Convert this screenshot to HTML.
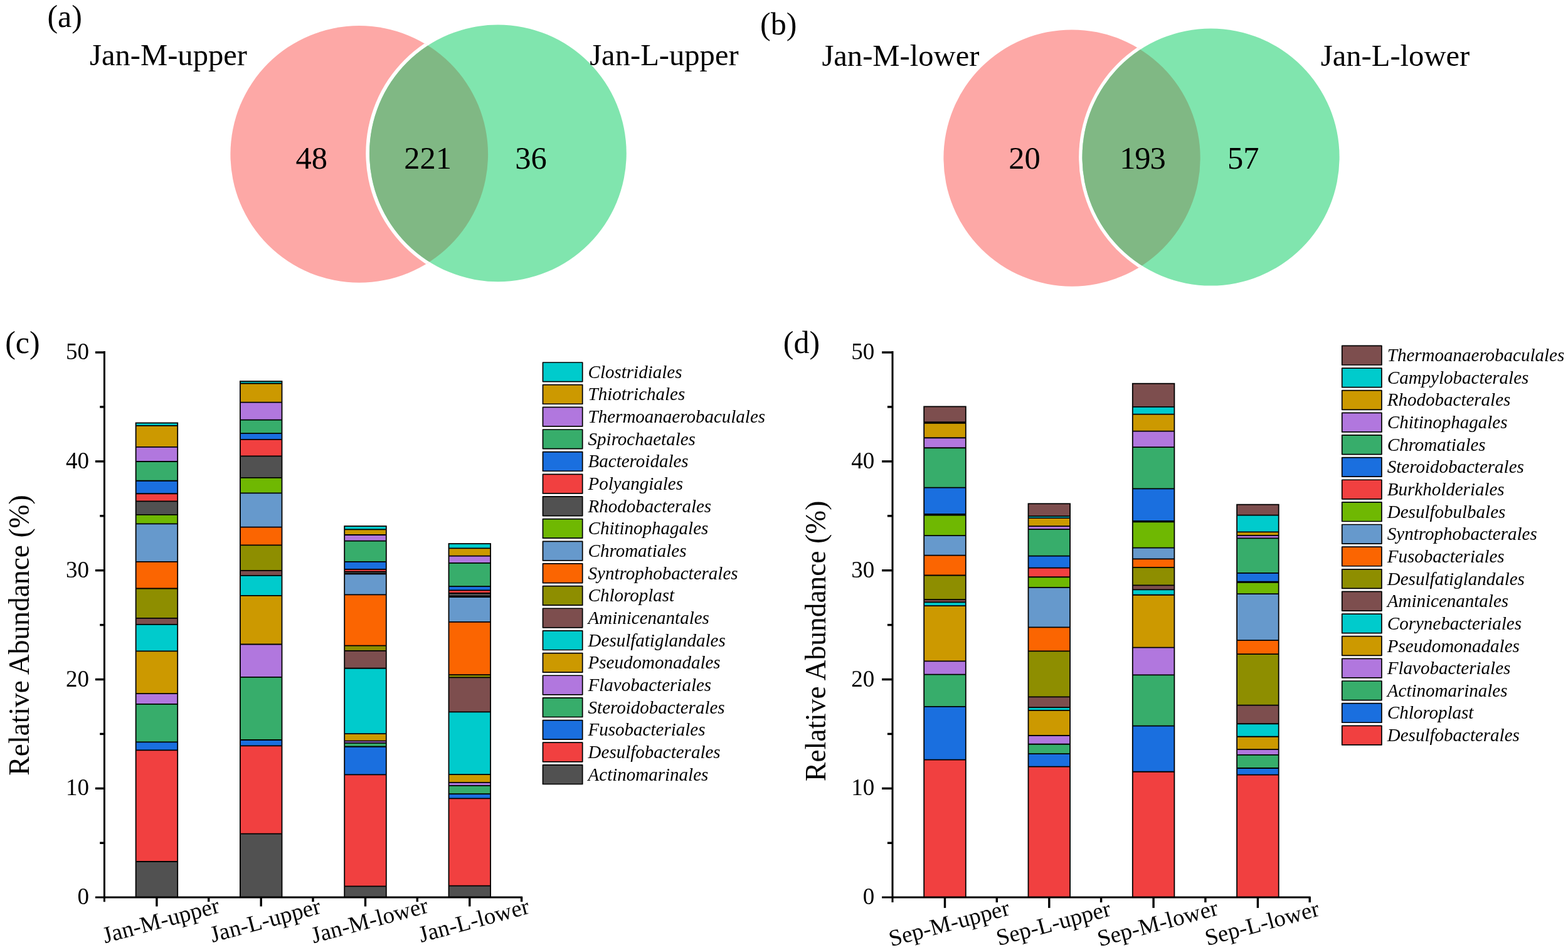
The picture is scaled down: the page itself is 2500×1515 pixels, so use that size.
<!DOCTYPE html>
<html><head><meta charset="utf-8"><title>Figure</title>
<style>
html,body{margin:0;padding:0;background:#fff;width:2500px;height:1515px;overflow:hidden}
svg{display:block}

text{font-family:"Liberation Serif","Times New Roman",serif;fill:#000}
.vn{font-size:50.5px}
.vl{font-size:48.6px}
.pl{font-size:50px}
.tk{font-size:37px}
.yt{font-size:45.5px}
.lg{font-size:29px;font-style:italic}
</style></head><body>
<svg width="2500" height="1515" viewBox="0 0 2500 1515">
<rect class="bg" width="2500" height="1515" fill="#fff"/>
<g class="venn">
<defs><clipPath id="clipRa"><ellipse cx="572.75" cy="245.95" rx="205.35" ry="204.85"/></clipPath></defs>
<ellipse cx="572.75" cy="245.95" rx="205.35" ry="204.85" fill="#FDA8A6"/>
<circle cx="793.9" cy="244.35" r="210.6" fill="#fff" clip-path="url(#clipRa)"/>
<circle cx="793.9" cy="244.35" r="204.85" fill="#80E5AE"/>
<circle cx="793.9" cy="244.35" r="204.85" fill="#80B884" clip-path="url(#clipRa)"/>
</g><g class="vnum">
<text x="496.8" y="268.7" class="vn" text-anchor="middle">48</text>
<text x="682.0" y="268.7" class="vn" text-anchor="middle">221</text>
<text x="846.5" y="268.7" class="vn" text-anchor="middle">36</text>
</g><g class="vlab">
<text x="143.0" y="104.0" class="vl">Jan-M-upper</text>
<text x="940.2" y="104.4" class="vl">Jan-L-upper</text>
</g>
<g class="venn">
<defs><clipPath id="clipRb"><ellipse cx="1709.05" cy="252.05" rx="204.65" ry="204.65"/></clipPath></defs>
<ellipse cx="1709.05" cy="252.05" rx="204.65" ry="204.65" fill="#FDA8A6"/>
<circle cx="1930.55" cy="250.55" r="210.4" fill="#fff" clip-path="url(#clipRb)"/>
<circle cx="1930.55" cy="250.55" r="205.05" fill="#80E5AE"/>
<circle cx="1930.55" cy="250.55" r="205.05" fill="#80B884" clip-path="url(#clipRb)"/>
</g><g class="vnum">
<text x="1633.6" y="269.4" class="vn" text-anchor="middle">20</text>
<text x="1821.4" y="269.4" class="vn" text-anchor="middle" letter-spacing="-1.2">193</text>
<text x="1982.3" y="269.4" class="vn" text-anchor="middle">57</text>
</g><g class="vlab">
<text x="1310.4" y="104.8" class="vl">Jan-M-lower</text>
<text x="2105.8" y="105.2" class="vl">Jan-L-lower</text>
</g>
<g class="pls">
<text x="75.4" y="42.7" class="pl">(a)</text>
<text x="1212.0" y="54.6" class="pl">(b)</text>
<text x="8.2" y="563.0" class="pl">(c)</text>
<text x="1248.8" y="563.0" class="pl">(d)</text>
</g>
<g class="bars">
<rect x="216.60" y="1373.98" width="66.6" height="57.02" fill="#515151"/>
<rect x="216.60" y="1196.32" width="66.6" height="177.66" fill="#F14040"/>
<rect x="216.60" y="1183.45" width="66.6" height="12.86" fill="#1A6FDF"/>
<rect x="216.60" y="1122.78" width="66.6" height="60.67" fill="#37AD6B"/>
<rect x="216.60" y="1106.09" width="66.6" height="16.69" fill="#B177DE"/>
<rect x="216.60" y="1038.30" width="66.6" height="67.80" fill="#CC9900"/>
<rect x="216.60" y="995.88" width="66.6" height="42.42" fill="#00CBCC"/>
<rect x="216.60" y="985.97" width="66.6" height="9.91" fill="#7D4E4E"/>
<rect x="216.60" y="938.51" width="66.6" height="47.46" fill="#8E8E00"/>
<rect x="216.60" y="895.92" width="66.6" height="42.59" fill="#FB6501"/>
<rect x="216.60" y="835.42" width="66.6" height="60.50" fill="#6699CC"/>
<rect x="216.60" y="820.82" width="66.6" height="14.60" fill="#6FB802"/>
<rect x="216.60" y="799.44" width="66.6" height="21.38" fill="#515151"/>
<rect x="216.60" y="787.27" width="66.6" height="12.17" fill="#F14040"/>
<rect x="216.60" y="766.76" width="66.6" height="20.51" fill="#1A6FDF"/>
<rect x="216.60" y="735.99" width="66.6" height="30.77" fill="#37AD6B"/>
<rect x="216.60" y="712.87" width="66.6" height="23.12" fill="#B177DE"/>
<rect x="216.60" y="678.79" width="66.6" height="34.07" fill="#CC9900"/>
<rect x="216.60" y="674.45" width="66.6" height="4.35" fill="#00CBCC"/>
<path d="M216.60 1373.98H283.20M216.60 1196.32H283.20M216.60 1183.45H283.20M216.60 1122.78H283.20M216.60 1106.09H283.20M216.60 1038.30H283.20M216.60 995.88H283.20M216.60 985.97H283.20M216.60 938.51H283.20M216.60 895.92H283.20M216.60 835.42H283.20M216.60 820.82H283.20M216.60 799.44H283.20M216.60 787.27H283.20M216.60 766.76H283.20M216.60 735.99H283.20M216.60 712.87H283.20M216.60 678.79H283.20" stroke="#000" stroke-width="1.8" fill="none"/>
<rect x="216.60" y="674.45" width="66.6" height="756.55" fill="none" stroke="#000" stroke-width="1.8"/>
<rect x="382.90" y="1329.65" width="66.6" height="101.35" fill="#515151"/>
<rect x="382.90" y="1189.36" width="66.6" height="140.29" fill="#F14040"/>
<rect x="382.90" y="1179.98" width="66.6" height="9.39" fill="#1A6FDF"/>
<rect x="382.90" y="1079.84" width="66.6" height="100.13" fill="#37AD6B"/>
<rect x="382.90" y="1027.52" width="66.6" height="52.33" fill="#B177DE"/>
<rect x="382.90" y="949.81" width="66.6" height="77.71" fill="#CC9900"/>
<rect x="382.90" y="917.82" width="66.6" height="31.99" fill="#00CBCC"/>
<rect x="382.90" y="909.83" width="66.6" height="8.00" fill="#7D4E4E"/>
<rect x="382.90" y="869.32" width="66.6" height="40.50" fill="#8E8E00"/>
<rect x="382.90" y="840.64" width="66.6" height="28.68" fill="#FB6501"/>
<rect x="382.90" y="786.40" width="66.6" height="54.24" fill="#6699CC"/>
<rect x="382.90" y="761.89" width="66.6" height="24.51" fill="#6FB802"/>
<rect x="382.90" y="727.30" width="66.6" height="34.59" fill="#515151"/>
<rect x="382.90" y="700.87" width="66.6" height="26.42" fill="#F14040"/>
<rect x="382.90" y="691.14" width="66.6" height="9.74" fill="#1A6FDF"/>
<rect x="382.90" y="669.58" width="66.6" height="21.56" fill="#37AD6B"/>
<rect x="382.90" y="641.59" width="66.6" height="27.99" fill="#B177DE"/>
<rect x="382.90" y="611.52" width="66.6" height="30.07" fill="#CC9900"/>
<rect x="382.90" y="608.04" width="66.6" height="3.48" fill="#00CBCC"/>
<path d="M382.90 1329.65H449.50M382.90 1189.36H449.50M382.90 1179.98H449.50M382.90 1079.84H449.50M382.90 1027.52H449.50M382.90 949.81H449.50M382.90 917.82H449.50M382.90 909.83H449.50M382.90 869.32H449.50M382.90 840.64H449.50M382.90 786.40H449.50M382.90 761.89H449.50M382.90 727.30H449.50M382.90 700.87H449.50M382.90 691.14H449.50M382.90 669.58H449.50M382.90 641.59H449.50M382.90 611.52H449.50" stroke="#000" stroke-width="1.8" fill="none"/>
<rect x="382.90" y="608.04" width="66.6" height="822.96" fill="none" stroke="#000" stroke-width="1.8"/>
<rect x="549.20" y="1413.44" width="66.6" height="17.56" fill="#515151"/>
<rect x="549.20" y="1235.43" width="66.6" height="178.01" fill="#F14040"/>
<rect x="549.20" y="1190.75" width="66.6" height="44.68" fill="#1A6FDF"/>
<rect x="549.20" y="1184.84" width="66.6" height="5.91" fill="#37AD6B"/>
<rect x="549.20" y="1181.71" width="66.6" height="3.13" fill="#B177DE"/>
<rect x="549.20" y="1170.07" width="66.6" height="11.65" fill="#CC9900"/>
<rect x="549.20" y="1065.76" width="66.6" height="104.30" fill="#00CBCC"/>
<rect x="549.20" y="1037.95" width="66.6" height="27.81" fill="#7D4E4E"/>
<rect x="549.20" y="1029.60" width="66.6" height="8.34" fill="#8E8E00"/>
<rect x="549.20" y="948.42" width="66.6" height="81.18" fill="#FB6501"/>
<rect x="549.20" y="915.39" width="66.6" height="33.03" fill="#6699CC"/>
<rect x="549.20" y="914.87" width="66.6" height="0.52" fill="#6FB802"/>
<rect x="549.20" y="911.74" width="66.6" height="3.13" fill="#515151"/>
<rect x="549.20" y="907.92" width="66.6" height="3.82" fill="#F14040"/>
<rect x="549.20" y="895.92" width="66.6" height="11.99" fill="#1A6FDF"/>
<rect x="549.20" y="862.72" width="66.6" height="33.20" fill="#37AD6B"/>
<rect x="549.20" y="852.98" width="66.6" height="9.74" fill="#B177DE"/>
<rect x="549.20" y="844.29" width="66.6" height="8.69" fill="#CC9900"/>
<rect x="549.20" y="839.07" width="66.6" height="5.22" fill="#00CBCC"/>
<path d="M549.20 1413.44H615.80M549.20 1235.43H615.80M549.20 1190.75H615.80M549.20 1184.84H615.80M549.20 1181.71H615.80M549.20 1170.07H615.80M549.20 1065.76H615.80M549.20 1037.95H615.80M549.20 1029.60H615.80M549.20 948.42H615.80M549.20 915.39H615.80M549.20 914.87H615.80M549.20 911.74H615.80M549.20 907.92H615.80M549.20 895.92H615.80M549.20 862.72H615.80M549.20 852.98H615.80M549.20 844.29H615.80" stroke="#000" stroke-width="1.8" fill="none"/>
<rect x="549.20" y="839.07" width="66.6" height="591.93" fill="none" stroke="#000" stroke-width="1.8"/>
<rect x="715.50" y="1412.57" width="66.6" height="18.43" fill="#515151"/>
<rect x="715.50" y="1273.33" width="66.6" height="139.25" fill="#F14040"/>
<rect x="715.50" y="1266.20" width="66.6" height="7.13" fill="#1A6FDF"/>
<rect x="715.50" y="1252.81" width="66.6" height="13.39" fill="#37AD6B"/>
<rect x="715.50" y="1247.95" width="66.6" height="4.87" fill="#B177DE"/>
<rect x="715.50" y="1235.08" width="66.6" height="12.86" fill="#CC9900"/>
<rect x="715.50" y="1135.30" width="66.6" height="99.78" fill="#00CBCC"/>
<rect x="715.50" y="1080.36" width="66.6" height="54.93" fill="#7D4E4E"/>
<rect x="715.50" y="1076.19" width="66.6" height="4.17" fill="#8E8E00"/>
<rect x="715.50" y="991.88" width="66.6" height="84.31" fill="#FB6501"/>
<rect x="715.50" y="952.07" width="66.6" height="39.81" fill="#6699CC"/>
<rect x="715.50" y="950.68" width="66.6" height="1.39" fill="#6FB802"/>
<rect x="715.50" y="945.99" width="66.6" height="4.69" fill="#515151"/>
<rect x="715.50" y="941.29" width="66.6" height="4.69" fill="#F14040"/>
<rect x="715.50" y="935.21" width="66.6" height="6.08" fill="#1A6FDF"/>
<rect x="715.50" y="897.83" width="66.6" height="37.38" fill="#37AD6B"/>
<rect x="715.50" y="886.71" width="66.6" height="11.13" fill="#B177DE"/>
<rect x="715.50" y="874.36" width="66.6" height="12.34" fill="#CC9900"/>
<rect x="715.50" y="867.06" width="66.6" height="7.30" fill="#00CBCC"/>
<path d="M715.50 1412.57H782.10M715.50 1273.33H782.10M715.50 1266.20H782.10M715.50 1252.81H782.10M715.50 1247.95H782.10M715.50 1235.08H782.10M715.50 1135.30H782.10M715.50 1080.36H782.10M715.50 1076.19H782.10M715.50 991.88H782.10M715.50 952.07H782.10M715.50 950.68H782.10M715.50 945.99H782.10M715.50 941.29H782.10M715.50 935.21H782.10M715.50 897.83H782.10M715.50 886.71H782.10M715.50 874.36H782.10" stroke="#000" stroke-width="1.8" fill="none"/>
<rect x="715.50" y="867.06" width="66.6" height="563.94" fill="none" stroke="#000" stroke-width="1.8"/>
</g>
<g class="axes" stroke="#000" fill="none">
<line x1="166.4" y1="560.0999999999999" x2="166.4" y2="1438.2" stroke-width="3"/>
<line x1="151.9" y1="1431.0" x2="833.1" y2="1431.0" stroke-width="3"/>
<g stroke-width="3.4">
<line x1="151.9" y1="1257.36" x2="166.4" y2="1257.36"/>
<line x1="151.9" y1="1083.52" x2="166.4" y2="1083.52"/>
<line x1="151.9" y1="909.68" x2="166.4" y2="909.68"/>
<line x1="151.9" y1="735.84" x2="166.4" y2="735.84"/>
<line x1="151.9" y1="562.00" x2="166.4" y2="562.00"/>
<line x1="159.20000000000002" y1="1344.28" x2="166.4" y2="1344.28"/>
<line x1="159.20000000000002" y1="1170.44" x2="166.4" y2="1170.44"/>
<line x1="159.20000000000002" y1="996.60" x2="166.4" y2="996.60"/>
<line x1="159.20000000000002" y1="822.76" x2="166.4" y2="822.76"/>
<line x1="159.20000000000002" y1="648.92" x2="166.4" y2="648.92"/>
<line x1="249.90" y1="1431.0" x2="249.90" y2="1445.5"/>
<line x1="416.20" y1="1431.0" x2="416.20" y2="1445.5"/>
<line x1="582.50" y1="1431.0" x2="582.50" y2="1445.5"/>
<line x1="748.80" y1="1431.0" x2="748.80" y2="1445.5"/>
<line x1="332.70" y1="1431.0" x2="332.70" y2="1438.2"/>
<line x1="499.00" y1="1431.0" x2="499.00" y2="1438.2"/>
<line x1="665.30" y1="1431.0" x2="665.30" y2="1438.2"/>
<line x1="831.60" y1="1431.0" x2="831.60" y2="1438.2"/>
</g></g>
<g class="tkg">
<text x="141.9" y="1442.30" class="tk" text-anchor="end">0</text>
<text x="141.9" y="1268.46" class="tk" text-anchor="end">10</text>
<text x="141.9" y="1094.62" class="tk" text-anchor="end">20</text>
<text x="141.9" y="920.78" class="tk" text-anchor="end">30</text>
<text x="141.9" y="746.94" class="tk" text-anchor="end">40</text>
<text x="141.9" y="573.10" class="tk" text-anchor="end">50</text>
</g>
<g class="xl">
<text class="tk" text-anchor="middle" transform="translate(259.70,1479.5) rotate(-15)">Jan-M-upper</text>
<text class="tk" text-anchor="middle" transform="translate(426.00,1479.5) rotate(-15)">Jan-L-upper</text>
<text class="tk" text-anchor="middle" transform="translate(592.30,1479.5) rotate(-15)">Jan-M-lower</text>
<text class="tk" text-anchor="middle" transform="translate(758.60,1479.5) rotate(-15)">Jan-L-lower</text>
</g>
<g class="ytg"><text class="yt" text-anchor="middle" transform="translate(46.0,1013.0) rotate(-90)">Relative Abundance (%)</text></g>
<g class="leg">
<rect x="865.50" y="578.00" width="63.2" height="30.6" fill="#00CBCC" stroke="#000" stroke-width="1.7" stroke-linejoin="round"/>
<text x="937.60" y="602.80" class="lg">Clostridiales</text>
<rect x="865.50" y="613.66" width="63.2" height="30.6" fill="#CC9900" stroke="#000" stroke-width="1.7" stroke-linejoin="round"/>
<text x="937.60" y="638.46" class="lg">Thiotrichales</text>
<rect x="865.50" y="649.32" width="63.2" height="30.6" fill="#B177DE" stroke="#000" stroke-width="1.7" stroke-linejoin="round"/>
<text x="937.60" y="674.12" class="lg">Thermoanaerobaculales</text>
<rect x="865.50" y="684.98" width="63.2" height="30.6" fill="#37AD6B" stroke="#000" stroke-width="1.7" stroke-linejoin="round"/>
<text x="937.60" y="709.78" class="lg">Spirochaetales</text>
<rect x="865.50" y="720.64" width="63.2" height="30.6" fill="#1A6FDF" stroke="#000" stroke-width="1.7" stroke-linejoin="round"/>
<text x="937.60" y="745.44" class="lg">Bacteroidales</text>
<rect x="865.50" y="756.30" width="63.2" height="30.6" fill="#F14040" stroke="#000" stroke-width="1.7" stroke-linejoin="round"/>
<text x="937.60" y="781.10" class="lg">Polyangiales</text>
<rect x="865.50" y="791.96" width="63.2" height="30.6" fill="#515151" stroke="#000" stroke-width="1.7" stroke-linejoin="round"/>
<text x="937.60" y="816.76" class="lg">Rhodobacterales</text>
<rect x="865.50" y="827.62" width="63.2" height="30.6" fill="#6FB802" stroke="#000" stroke-width="1.7" stroke-linejoin="round"/>
<text x="937.60" y="852.42" class="lg">Chitinophagales</text>
<rect x="865.50" y="863.28" width="63.2" height="30.6" fill="#6699CC" stroke="#000" stroke-width="1.7" stroke-linejoin="round"/>
<text x="937.60" y="888.08" class="lg">Chromatiales</text>
<rect x="865.50" y="898.94" width="63.2" height="30.6" fill="#FB6501" stroke="#000" stroke-width="1.7" stroke-linejoin="round"/>
<text x="937.60" y="923.74" class="lg">Syntrophobacterales</text>
<rect x="865.50" y="934.60" width="63.2" height="30.6" fill="#8E8E00" stroke="#000" stroke-width="1.7" stroke-linejoin="round"/>
<text x="937.60" y="959.40" class="lg">Chloroplast</text>
<rect x="865.50" y="970.26" width="63.2" height="30.6" fill="#7D4E4E" stroke="#000" stroke-width="1.7" stroke-linejoin="round"/>
<text x="937.60" y="995.06" class="lg">Aminicenantales</text>
<rect x="865.50" y="1005.92" width="63.2" height="30.6" fill="#00CBCC" stroke="#000" stroke-width="1.7" stroke-linejoin="round"/>
<text x="937.60" y="1030.72" class="lg">Desulfatiglandales</text>
<rect x="865.50" y="1041.58" width="63.2" height="30.6" fill="#CC9900" stroke="#000" stroke-width="1.7" stroke-linejoin="round"/>
<text x="937.60" y="1066.38" class="lg">Pseudomonadales</text>
<rect x="865.50" y="1077.24" width="63.2" height="30.6" fill="#B177DE" stroke="#000" stroke-width="1.7" stroke-linejoin="round"/>
<text x="937.60" y="1102.04" class="lg">Flavobacteriales</text>
<rect x="865.50" y="1112.90" width="63.2" height="30.6" fill="#37AD6B" stroke="#000" stroke-width="1.7" stroke-linejoin="round"/>
<text x="937.60" y="1137.70" class="lg">Steroidobacterales</text>
<rect x="865.50" y="1148.56" width="63.2" height="30.6" fill="#1A6FDF" stroke="#000" stroke-width="1.7" stroke-linejoin="round"/>
<text x="937.60" y="1173.36" class="lg">Fusobacteriales</text>
<rect x="865.50" y="1184.22" width="63.2" height="30.6" fill="#F14040" stroke="#000" stroke-width="1.7" stroke-linejoin="round"/>
<text x="937.60" y="1209.02" class="lg">Desulfobacterales</text>
<rect x="865.50" y="1219.88" width="63.2" height="30.6" fill="#515151" stroke="#000" stroke-width="1.7" stroke-linejoin="round"/>
<text x="937.60" y="1244.68" class="lg">Actinomarinales</text>
</g>
<g class="bars">
<rect x="1473.20" y="1211.61" width="66.6" height="219.39" fill="#F14040"/>
<rect x="1473.20" y="1126.95" width="66.6" height="84.66" fill="#1A6FDF"/>
<rect x="1473.20" y="1075.67" width="66.6" height="51.28" fill="#37AD6B"/>
<rect x="1473.20" y="1054.29" width="66.6" height="21.38" fill="#B177DE"/>
<rect x="1473.20" y="966.15" width="66.6" height="88.14" fill="#CC9900"/>
<rect x="1473.20" y="960.42" width="66.6" height="5.74" fill="#00CBCC"/>
<rect x="1473.20" y="956.07" width="66.6" height="4.35" fill="#7D4E4E"/>
<rect x="1473.20" y="917.48" width="66.6" height="38.59" fill="#8E8E00"/>
<rect x="1473.20" y="885.66" width="66.6" height="31.81" fill="#FB6501"/>
<rect x="1473.20" y="854.20" width="66.6" height="31.47" fill="#6699CC"/>
<rect x="1473.20" y="821.52" width="66.6" height="32.68" fill="#6FB802"/>
<rect x="1473.20" y="819.95" width="66.6" height="1.56" fill="#F14040"/>
<rect x="1473.20" y="777.71" width="66.6" height="42.24" fill="#1A6FDF"/>
<rect x="1473.20" y="714.26" width="66.6" height="63.45" fill="#37AD6B"/>
<rect x="1473.20" y="698.26" width="66.6" height="15.99" fill="#B177DE"/>
<rect x="1473.20" y="674.80" width="66.6" height="23.47" fill="#CC9900"/>
<rect x="1473.20" y="673.06" width="66.6" height="1.74" fill="#00CBCC"/>
<rect x="1473.20" y="648.37" width="66.6" height="24.69" fill="#7D4E4E"/>
<path d="M1473.20 1211.61H1539.80M1473.20 1126.95H1539.80M1473.20 1075.67H1539.80M1473.20 1054.29H1539.80M1473.20 966.15H1539.80M1473.20 960.42H1539.80M1473.20 956.07H1539.80M1473.20 917.48H1539.80M1473.20 885.66H1539.80M1473.20 854.20H1539.80M1473.20 821.52H1539.80M1473.20 819.95H1539.80M1473.20 777.71H1539.80M1473.20 714.26H1539.80M1473.20 698.26H1539.80M1473.20 674.80H1539.80M1473.20 673.06H1539.80" stroke="#000" stroke-width="1.8" fill="none"/>
<rect x="1473.20" y="648.37" width="66.6" height="782.63" fill="none" stroke="#000" stroke-width="1.8"/>
<rect x="1639.50" y="1222.57" width="66.6" height="208.43" fill="#F14040"/>
<rect x="1639.50" y="1202.05" width="66.6" height="20.51" fill="#1A6FDF"/>
<rect x="1639.50" y="1186.75" width="66.6" height="15.30" fill="#37AD6B"/>
<rect x="1639.50" y="1173.02" width="66.6" height="13.73" fill="#B177DE"/>
<rect x="1639.50" y="1132.86" width="66.6" height="40.16" fill="#CC9900"/>
<rect x="1639.50" y="1128.17" width="66.6" height="4.69" fill="#00CBCC"/>
<rect x="1639.50" y="1111.31" width="66.6" height="16.86" fill="#7D4E4E"/>
<rect x="1639.50" y="1038.30" width="66.6" height="73.01" fill="#8E8E00"/>
<rect x="1639.50" y="1000.40" width="66.6" height="37.90" fill="#FB6501"/>
<rect x="1639.50" y="936.95" width="66.6" height="63.45" fill="#6699CC"/>
<rect x="1639.50" y="920.26" width="66.6" height="16.69" fill="#6FB802"/>
<rect x="1639.50" y="905.66" width="66.6" height="14.60" fill="#F14040"/>
<rect x="1639.50" y="886.71" width="66.6" height="18.95" fill="#1A6FDF"/>
<rect x="1639.50" y="844.12" width="66.6" height="42.59" fill="#37AD6B"/>
<rect x="1639.50" y="839.07" width="66.6" height="5.04" fill="#B177DE"/>
<rect x="1639.50" y="826.04" width="66.6" height="13.04" fill="#CC9900"/>
<rect x="1639.50" y="823.08" width="66.6" height="2.96" fill="#00CBCC"/>
<rect x="1639.50" y="803.26" width="66.6" height="19.82" fill="#7D4E4E"/>
<path d="M1639.50 1222.57H1706.10M1639.50 1202.05H1706.10M1639.50 1186.75H1706.10M1639.50 1173.02H1706.10M1639.50 1132.86H1706.10M1639.50 1128.17H1706.10M1639.50 1111.31H1706.10M1639.50 1038.30H1706.10M1639.50 1000.40H1706.10M1639.50 936.95H1706.10M1639.50 920.26H1706.10M1639.50 905.66H1706.10M1639.50 886.71H1706.10M1639.50 844.12H1706.10M1639.50 839.07H1706.10M1639.50 826.04H1706.10M1639.50 823.08H1706.10" stroke="#000" stroke-width="1.8" fill="none"/>
<rect x="1639.50" y="803.26" width="66.6" height="627.74" fill="none" stroke="#000" stroke-width="1.8"/>
<rect x="1805.80" y="1230.74" width="66.6" height="200.26" fill="#F14040"/>
<rect x="1805.80" y="1157.72" width="66.6" height="73.01" fill="#1A6FDF"/>
<rect x="1805.80" y="1076.37" width="66.6" height="81.36" fill="#37AD6B"/>
<rect x="1805.80" y="1032.56" width="66.6" height="43.81" fill="#B177DE"/>
<rect x="1805.80" y="948.77" width="66.6" height="83.79" fill="#CC9900"/>
<rect x="1805.80" y="940.42" width="66.6" height="8.34" fill="#00CBCC"/>
<rect x="1805.80" y="933.47" width="66.6" height="6.95" fill="#7D4E4E"/>
<rect x="1805.80" y="904.96" width="66.6" height="28.51" fill="#8E8E00"/>
<rect x="1805.80" y="891.40" width="66.6" height="13.56" fill="#FB6501"/>
<rect x="1805.80" y="873.67" width="66.6" height="17.73" fill="#6699CC"/>
<rect x="1805.80" y="832.47" width="66.6" height="41.20" fill="#6FB802"/>
<rect x="1805.80" y="830.90" width="66.6" height="1.56" fill="#F14040"/>
<rect x="1805.80" y="779.45" width="66.6" height="51.46" fill="#1A6FDF"/>
<rect x="1805.80" y="713.21" width="66.6" height="66.23" fill="#37AD6B"/>
<rect x="1805.80" y="687.66" width="66.6" height="25.55" fill="#B177DE"/>
<rect x="1805.80" y="660.54" width="66.6" height="27.12" fill="#CC9900"/>
<rect x="1805.80" y="648.89" width="66.6" height="11.65" fill="#00CBCC"/>
<rect x="1805.80" y="611.69" width="66.6" height="37.20" fill="#7D4E4E"/>
<path d="M1805.80 1230.74H1872.40M1805.80 1157.72H1872.40M1805.80 1076.37H1872.40M1805.80 1032.56H1872.40M1805.80 948.77H1872.40M1805.80 940.42H1872.40M1805.80 933.47H1872.40M1805.80 904.96H1872.40M1805.80 891.40H1872.40M1805.80 873.67H1872.40M1805.80 832.47H1872.40M1805.80 830.90H1872.40M1805.80 779.45H1872.40M1805.80 713.21H1872.40M1805.80 687.66H1872.40M1805.80 660.54H1872.40M1805.80 648.89H1872.40" stroke="#000" stroke-width="1.8" fill="none"/>
<rect x="1805.80" y="611.69" width="66.6" height="819.31" fill="none" stroke="#000" stroke-width="1.8"/>
<rect x="1972.10" y="1235.60" width="66.6" height="195.40" fill="#F14040"/>
<rect x="1972.10" y="1225.00" width="66.6" height="10.60" fill="#1A6FDF"/>
<rect x="1972.10" y="1203.79" width="66.6" height="21.21" fill="#37AD6B"/>
<rect x="1972.10" y="1195.10" width="66.6" height="8.69" fill="#B177DE"/>
<rect x="1972.10" y="1174.76" width="66.6" height="20.34" fill="#CC9900"/>
<rect x="1972.10" y="1154.25" width="66.6" height="20.51" fill="#00CBCC"/>
<rect x="1972.10" y="1124.69" width="66.6" height="29.55" fill="#7D4E4E"/>
<rect x="1972.10" y="1043.16" width="66.6" height="81.53" fill="#8E8E00"/>
<rect x="1972.10" y="1021.09" width="66.6" height="22.08" fill="#FB6501"/>
<rect x="1972.10" y="947.03" width="66.6" height="74.06" fill="#6699CC"/>
<rect x="1972.10" y="928.78" width="66.6" height="18.25" fill="#6FB802"/>
<rect x="1972.10" y="927.73" width="66.6" height="1.04" fill="#F14040"/>
<rect x="1972.10" y="913.83" width="66.6" height="13.91" fill="#1A6FDF"/>
<rect x="1972.10" y="858.37" width="66.6" height="55.45" fill="#37AD6B"/>
<rect x="1972.10" y="853.85" width="66.6" height="4.52" fill="#B177DE"/>
<rect x="1972.10" y="848.46" width="66.6" height="5.39" fill="#CC9900"/>
<rect x="1972.10" y="821.69" width="66.6" height="26.77" fill="#00CBCC"/>
<rect x="1972.10" y="804.65" width="66.6" height="17.04" fill="#7D4E4E"/>
<path d="M1972.10 1235.60H2038.70M1972.10 1225.00H2038.70M1972.10 1203.79H2038.70M1972.10 1195.10H2038.70M1972.10 1174.76H2038.70M1972.10 1154.25H2038.70M1972.10 1124.69H2038.70M1972.10 1043.16H2038.70M1972.10 1021.09H2038.70M1972.10 947.03H2038.70M1972.10 928.78H2038.70M1972.10 927.73H2038.70M1972.10 913.83H2038.70M1972.10 858.37H2038.70M1972.10 853.85H2038.70M1972.10 848.46H2038.70M1972.10 821.69H2038.70" stroke="#000" stroke-width="1.8" fill="none"/>
<rect x="1972.10" y="804.65" width="66.6" height="626.35" fill="none" stroke="#000" stroke-width="1.8"/>
</g>
<g class="axes" stroke="#000" fill="none">
<line x1="1423.0" y1="560.0999999999999" x2="1423.0" y2="1439.1" stroke-width="3"/>
<line x1="1406.1" y1="1431.0" x2="2089.7" y2="1431.0" stroke-width="3"/>
<g stroke-width="3.4">
<line x1="1406.1" y1="1257.36" x2="1423.0" y2="1257.36"/>
<line x1="1406.1" y1="1083.52" x2="1423.0" y2="1083.52"/>
<line x1="1406.1" y1="909.68" x2="1423.0" y2="909.68"/>
<line x1="1406.1" y1="735.84" x2="1423.0" y2="735.84"/>
<line x1="1406.1" y1="562.00" x2="1423.0" y2="562.00"/>
<line x1="1414.9" y1="1344.28" x2="1423.0" y2="1344.28"/>
<line x1="1414.9" y1="1170.44" x2="1423.0" y2="1170.44"/>
<line x1="1414.9" y1="996.60" x2="1423.0" y2="996.60"/>
<line x1="1414.9" y1="822.76" x2="1423.0" y2="822.76"/>
<line x1="1414.9" y1="648.92" x2="1423.0" y2="648.92"/>
<line x1="1506.50" y1="1431.0" x2="1506.50" y2="1447.9"/>
<line x1="1672.80" y1="1431.0" x2="1672.80" y2="1447.9"/>
<line x1="1839.10" y1="1431.0" x2="1839.10" y2="1447.9"/>
<line x1="2005.40" y1="1431.0" x2="2005.40" y2="1447.9"/>
<line x1="1589.30" y1="1431.0" x2="1589.30" y2="1439.1"/>
<line x1="1755.60" y1="1431.0" x2="1755.60" y2="1439.1"/>
<line x1="1921.90" y1="1431.0" x2="1921.90" y2="1439.1"/>
<line x1="2088.20" y1="1431.0" x2="2088.20" y2="1439.1"/>
</g></g>
<g class="tkg">
<text x="1394.2" y="1442.30" class="tk" text-anchor="end">0</text>
<text x="1394.2" y="1268.46" class="tk" text-anchor="end">10</text>
<text x="1394.2" y="1094.62" class="tk" text-anchor="end">20</text>
<text x="1394.2" y="920.78" class="tk" text-anchor="end">30</text>
<text x="1394.2" y="746.94" class="tk" text-anchor="end">40</text>
<text x="1394.2" y="573.10" class="tk" text-anchor="end">50</text>
</g>
<g class="xl">
<text class="tk" text-anchor="middle" transform="translate(1516.30,1484.0) rotate(-15)">Sep-M-upper</text>
<text class="tk" text-anchor="middle" transform="translate(1682.60,1484.0) rotate(-15)">Sep-L-upper</text>
<text class="tk" text-anchor="middle" transform="translate(1848.90,1484.0) rotate(-15)">Sep-M-lower</text>
<text class="tk" text-anchor="middle" transform="translate(2015.20,1484.0) rotate(-15)">Sep-L-lower</text>
</g>
<g class="ytg"><text class="yt" text-anchor="middle" transform="translate(1316.0,1022.3) rotate(-90)">Relative Abundance (%)</text></g>
<g class="leg">
<rect x="2139.70" y="551.40" width="63.2" height="30.6" fill="#7D4E4E" stroke="#000" stroke-width="1.7" stroke-linejoin="round"/>
<text x="2211.80" y="576.20" class="lg">Thermoanaerobaculales</text>
<rect x="2139.70" y="587.04" width="63.2" height="30.6" fill="#00CBCC" stroke="#000" stroke-width="1.7" stroke-linejoin="round"/>
<text x="2211.80" y="611.84" class="lg">Campylobacterales</text>
<rect x="2139.70" y="622.68" width="63.2" height="30.6" fill="#CC9900" stroke="#000" stroke-width="1.7" stroke-linejoin="round"/>
<text x="2211.80" y="647.48" class="lg">Rhodobacterales</text>
<rect x="2139.70" y="658.32" width="63.2" height="30.6" fill="#B177DE" stroke="#000" stroke-width="1.7" stroke-linejoin="round"/>
<text x="2211.80" y="683.12" class="lg">Chitinophagales</text>
<rect x="2139.70" y="693.96" width="63.2" height="30.6" fill="#37AD6B" stroke="#000" stroke-width="1.7" stroke-linejoin="round"/>
<text x="2211.80" y="718.76" class="lg">Chromatiales</text>
<rect x="2139.70" y="729.60" width="63.2" height="30.6" fill="#1A6FDF" stroke="#000" stroke-width="1.7" stroke-linejoin="round"/>
<text x="2211.80" y="754.40" class="lg">Steroidobacterales</text>
<rect x="2139.70" y="765.24" width="63.2" height="30.6" fill="#F14040" stroke="#000" stroke-width="1.7" stroke-linejoin="round"/>
<text x="2211.80" y="790.04" class="lg">Burkholderiales</text>
<rect x="2139.70" y="800.88" width="63.2" height="30.6" fill="#6FB802" stroke="#000" stroke-width="1.7" stroke-linejoin="round"/>
<text x="2211.80" y="825.68" class="lg">Desulfobulbales</text>
<rect x="2139.70" y="836.52" width="63.2" height="30.6" fill="#6699CC" stroke="#000" stroke-width="1.7" stroke-linejoin="round"/>
<text x="2211.80" y="861.32" class="lg">Syntrophobacterales</text>
<rect x="2139.70" y="872.16" width="63.2" height="30.6" fill="#FB6501" stroke="#000" stroke-width="1.7" stroke-linejoin="round"/>
<text x="2211.80" y="896.96" class="lg">Fusobacteriales</text>
<rect x="2139.70" y="907.80" width="63.2" height="30.6" fill="#8E8E00" stroke="#000" stroke-width="1.7" stroke-linejoin="round"/>
<text x="2211.80" y="932.60" class="lg">Desulfatiglandales</text>
<rect x="2139.70" y="943.44" width="63.2" height="30.6" fill="#7D4E4E" stroke="#000" stroke-width="1.7" stroke-linejoin="round"/>
<text x="2211.80" y="968.24" class="lg">Aminicenantales</text>
<rect x="2139.70" y="979.08" width="63.2" height="30.6" fill="#00CBCC" stroke="#000" stroke-width="1.7" stroke-linejoin="round"/>
<text x="2211.80" y="1003.88" class="lg">Corynebacteriales</text>
<rect x="2139.70" y="1014.72" width="63.2" height="30.6" fill="#CC9900" stroke="#000" stroke-width="1.7" stroke-linejoin="round"/>
<text x="2211.80" y="1039.52" class="lg">Pseudomonadales</text>
<rect x="2139.70" y="1050.36" width="63.2" height="30.6" fill="#B177DE" stroke="#000" stroke-width="1.7" stroke-linejoin="round"/>
<text x="2211.80" y="1075.16" class="lg">Flavobacteriales</text>
<rect x="2139.70" y="1086.00" width="63.2" height="30.6" fill="#37AD6B" stroke="#000" stroke-width="1.7" stroke-linejoin="round"/>
<text x="2211.80" y="1110.80" class="lg">Actinomarinales</text>
<rect x="2139.70" y="1121.64" width="63.2" height="30.6" fill="#1A6FDF" stroke="#000" stroke-width="1.7" stroke-linejoin="round"/>
<text x="2211.80" y="1146.44" class="lg">Chloroplast</text>
<rect x="2139.70" y="1157.28" width="63.2" height="30.6" fill="#F14040" stroke="#000" stroke-width="1.7" stroke-linejoin="round"/>
<text x="2211.80" y="1182.08" class="lg">Desulfobacterales</text>
</g>
</svg>
</body></html>
